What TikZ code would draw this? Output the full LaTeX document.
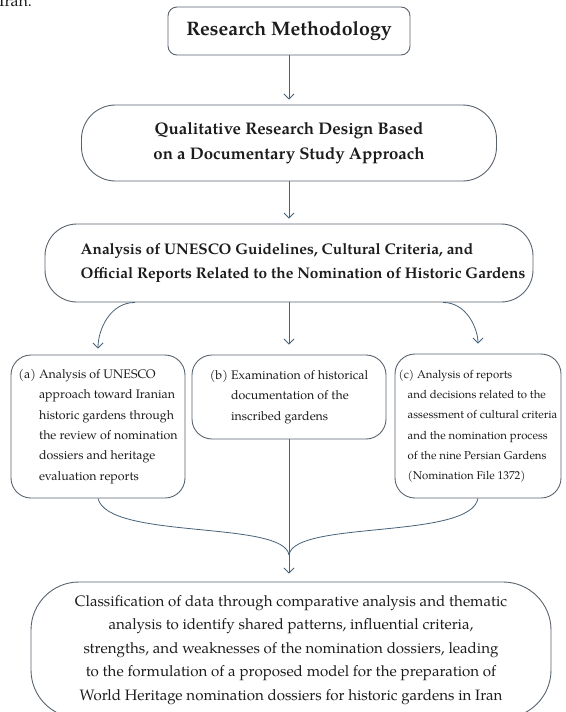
\documentclass[tikz,border=0pt]{standalone}
\usepackage{fontspec}
\setmainfont{TeX Gyre Pagella}
\usetikzlibrary{arrows.meta}

\definecolor{boxline}{HTML}{59636E}
\definecolor{flowline}{HTML}{476279}
\definecolor{txt}{HTML}{1C1C1C}

\begin{document}
\begin{tikzpicture}[x=1pt, y=-1pt,
    box/.style={draw=boxline, line width=0.9pt, text=txt, inner sep=0pt},
    flow/.style={draw=flowline, line width=0.8pt, -{Straight Barb[length=5pt,width=10pt]}},
    link/.style={draw=flowline, line width=0.8pt}]
    \useasboundingbox (0,0) rectangle (565,712);

    \node[anchor=base west, inner sep=0pt, text=txt, font=\fontsize{16}{19}\selectfont] (iran) at (-1,6) {Iran.};

    \node[box, rounded corners=9pt, minimum width=242pt, minimum height=48pt, font=\bfseries\fontsize{19.5}{22}\selectfont] (rm) at (289,31) {Research Methodology};
    \node[box, rounded corners=34pt, minimum width=415pt, minimum height=76pt, align=center, font=\bfseries\fontsize{16.8}{25}\selectfont] (qrd) at (289,143) {Qualitative Research Design Based\\on a Documentary Study Approach};
    \node[box, rounded corners=32pt, minimum width=488pt, minimum height=78pt, align=left, font=\bfseries\fontsize{15.4}{24}\selectfont] (ana) at (289,263) {\hspace*{28pt}Analysis of UNESCO Guidelines, Cultural Criteria, and\\\hspace*{28pt}Official Reports Related to the Nomination of Historic Gardens};

    \node[box, rounded corners=20pt, minimum width=174pt, minimum height=143pt, align=left, font=\fontsize{12.4}{20.3}\selectfont] (boxA) at (98,426.5) {(a) Analysis of UNESCO\\\phantom{(a) }approach toward Iranian\\\phantom{(a) }historic gardens through\\\phantom{(a) }the review of nomination\\\phantom{(a) }dossiers and heritage\\\phantom{(a) }evaluation reports};
    \node[box, rounded corners=20pt, minimum width=194pt, minimum height=84pt, align=left, font=\fontsize{12.4}{20.3}\selectfont] (boxB) at (289,397) {(b) Examination of historical\\\phantom{(b) }documentation of the\\\phantom{(b) }inscribed gardens};
    \node[box, rounded corners=20pt, minimum width=166pt, minimum height=144pt, align=left, font=\fontsize{11.4}{20.3}\selectfont] (boxC) at (478,426) {(c) Analysis of reports\\\hspace*{9pt}and decisions related to the\\\hspace*{9pt}assessment of cultural criteria\\\hspace*{9pt}and the nomination process\\\hspace*{9pt}of the nine Persian Gardens\\\hspace*{9pt}(Nomination File 1372)};

    \node[box, rounded corners=48pt, minimum width=520pt, minimum height=136pt, align=center, font=\fontsize{15.1}{23.5}\selectfont] (cls) at (291,650) {Classification of data through comparative analysis and thematic\\analysis to identify shared patterns, influential criteria,\\strengths, and weaknesses of the nomination dossiers, leading\\to the formulation of a proposed model for the preparation of\\World Heritage nomination dossiers for historic gardens in Iran};

    \draw[flow, shorten >=5pt] (rm) -- (qrd);
    \draw[flow, shorten >=5pt] (qrd) -- (ana);
    \draw[flow, shorten >=10pt] (ana) -- (boxB);
    \draw[flow, shorten >=6pt] ([xshift=-154pt]ana.south) to[out=180, in=90] (boxA.north);
    \draw[flow, shorten >=10pt] ([xshift=154pt]ana.south) to[out=0, in=90] (boxC.north);

    \coordinate (merge) at (289,555);
    \draw[link] (boxA.south) .. controls (108,540) and (284,520) .. (merge);
    \draw[link] (boxC.south) .. controls (470,540) and (294,520) .. (merge);
    \draw[flow, shorten >=8pt] (boxB) -- (boxB |- cls.north);

\end{tikzpicture}
\end{document}
